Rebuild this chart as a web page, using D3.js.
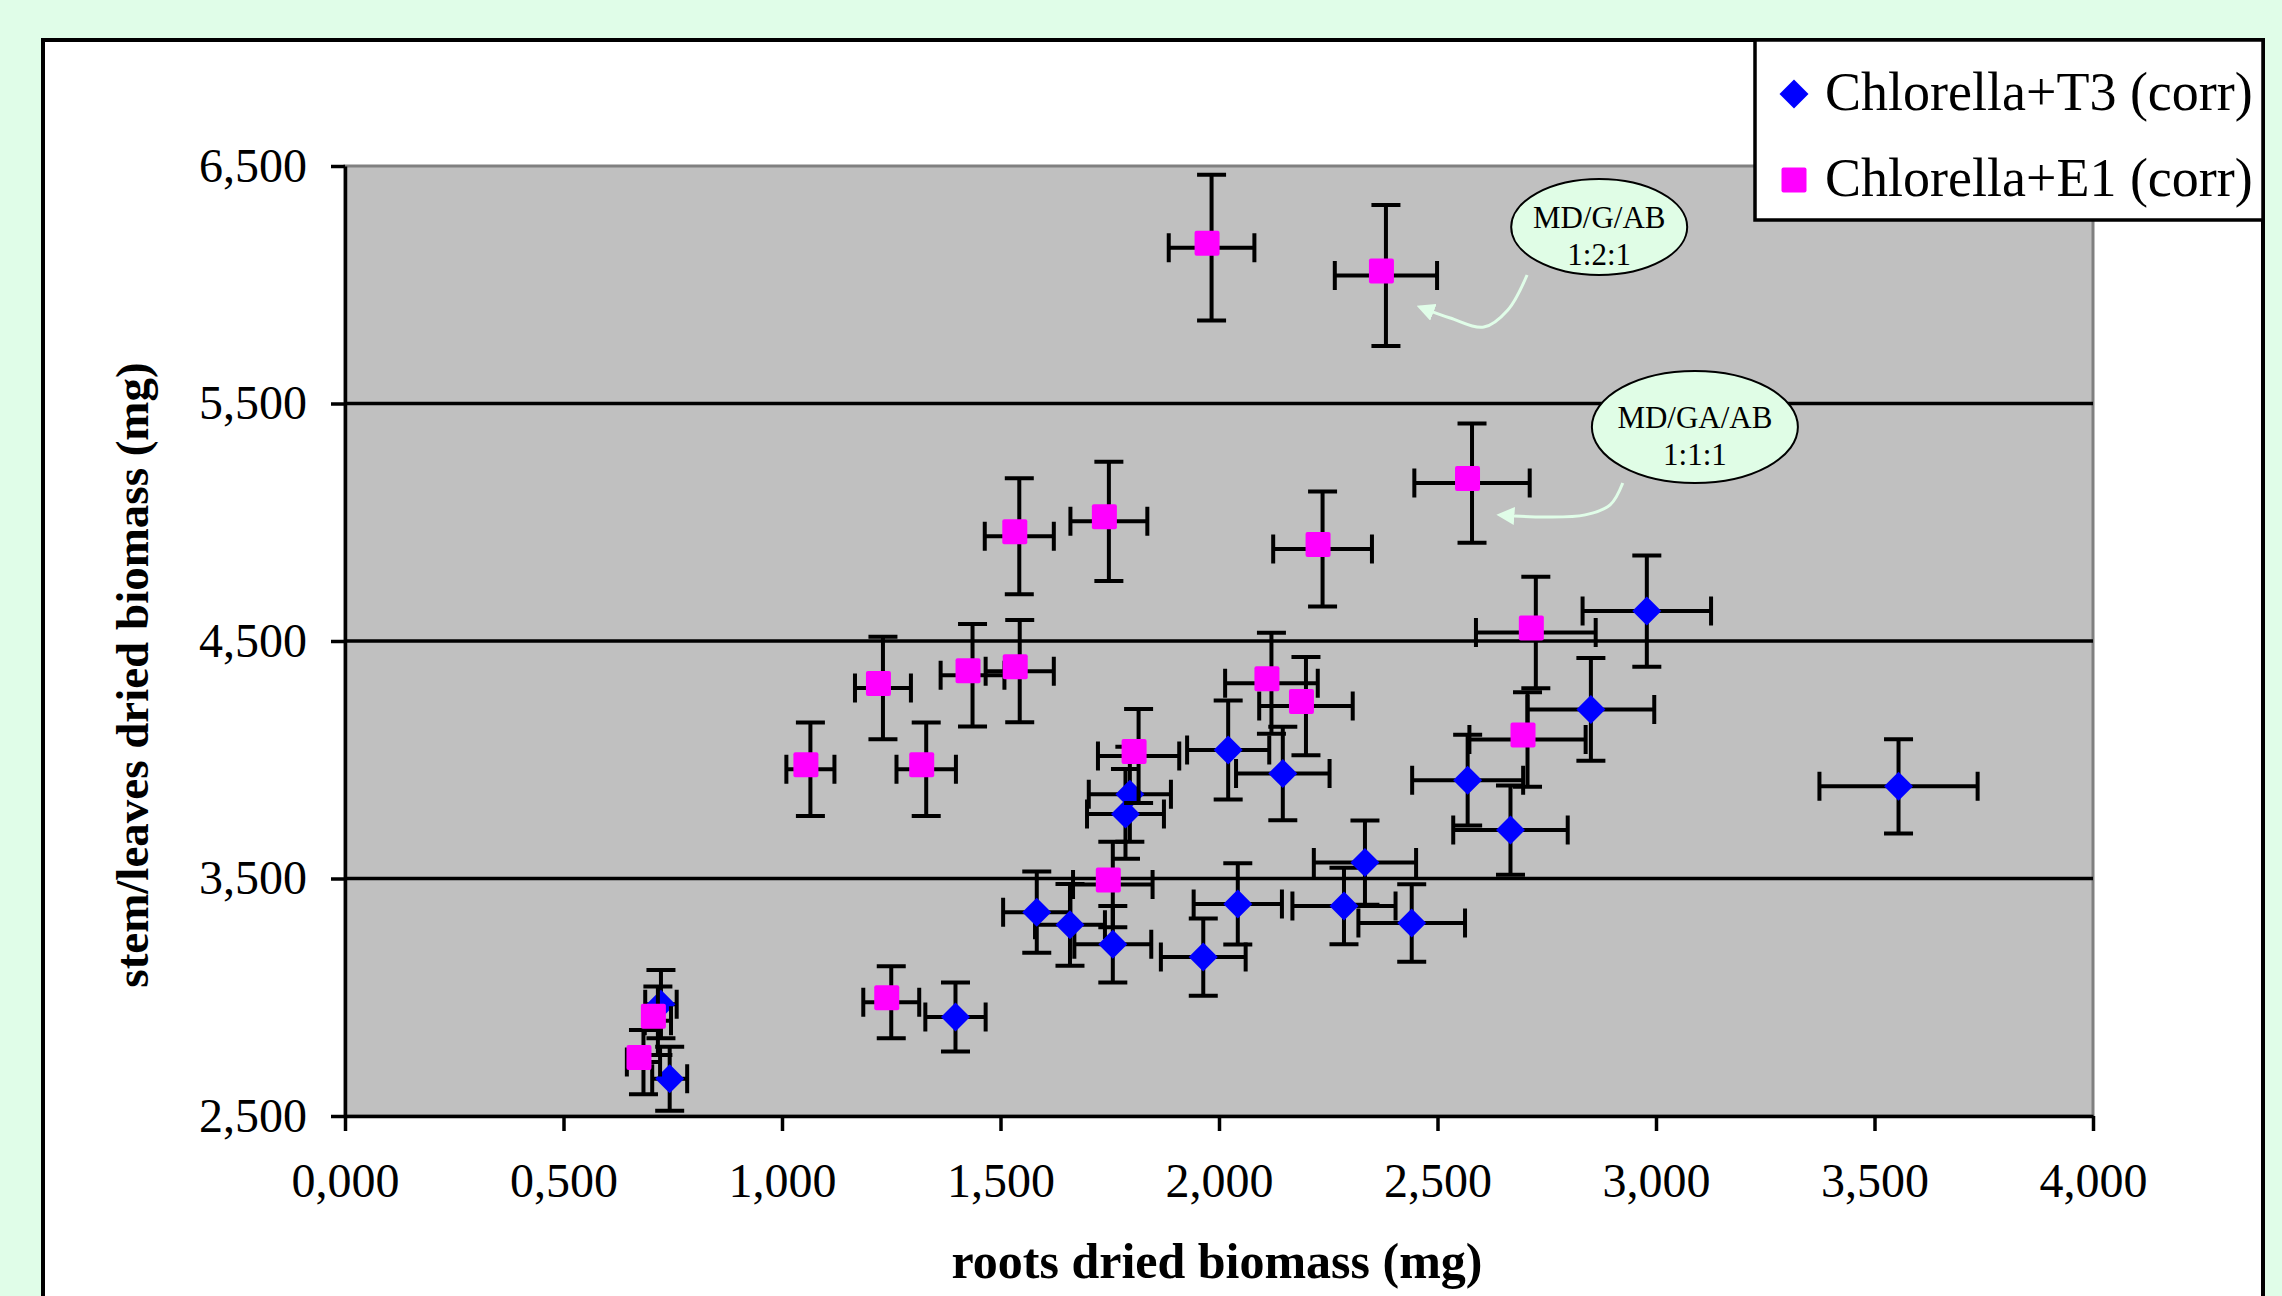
<!DOCTYPE html>
<html>
<head>
<meta charset="utf-8">
<script src="https://cdn.jsdelivr.net/npm/d3@7"></script>
<style>
  html, body { margin: 0; padding: 0; background: #e0fde8; overflow: hidden; }
  text { font-family: "Liberation Serif", "Times New Roman", serif; }
</style>
</head>
<body>
<script>
// Chlorella+T3 (corr): roots (x), stem/leaves (y), error half-widths
const t3X  = [2.979, 2.851, 2.569, 2.667, 3.555, 2.334, 2.286, 2.441, 2.021, 2.146,
              1.796, 1.786, 2.043, 1.964, 1.583, 1.659, 1.757, 1.397, 0.723, 0.743];
const t3Y  = [4.626, 4.212, 3.914, 3.704, 3.888, 3.567, 3.384, 3.313, 4.041, 3.942,
              3.855, 3.772, 3.393, 3.169, 3.358, 3.305, 3.223, 2.917, 2.971, 2.657];
const t3Ex = [0.147, 0.145, 0.127, 0.131, 0.181, 0.117, 0.118, 0.122, 0.094, 0.107,
              0.094, 0.088, 0.101, 0.097, 0.077, 0.080, 0.088, 0.069, 0.036, 0.040];
const t3Ey = [0.234, 0.216, 0.191, 0.188, 0.198, 0.177, 0.161, 0.163, 0.208, 0.197,
              0.200, 0.189, 0.171, 0.163, 0.171, 0.172, 0.161, 0.145, 0.144, 0.135];

// Chlorella+E1 (corr)
const e1X  = [1.983, 2.382, 2.579, 1.543, 1.748, 2.237, 2.725, 1.231, 1.436, 1.544,
              2.120, 2.199, 1.065, 1.330, 1.816, 2.706, 1.757, 1.250, 0.716, 0.683];
const e1Y  = [6.156, 6.039, 5.165, 4.941, 5.004, 4.887, 4.536, 4.302, 4.356, 4.373,
              4.322, 4.226, 3.960, 3.960, 4.016, 4.085, 3.475, 2.979, 2.901, 2.727];
const e1Ex = [0.098, 0.117, 0.132, 0.079, 0.088, 0.113, 0.137, 0.064, 0.073, 0.078,
              0.106, 0.107, 0.055, 0.068, 0.093, 0.133, 0.091, 0.064, 0.030, 0.038];
const e1Ey = [0.307, 0.297, 0.251, 0.244, 0.251, 0.242, 0.235, 0.216, 0.216, 0.215,
              0.213, 0.207, 0.197, 0.197, 0.198, 0.199, 0.180, 0.152, 0.144, 0.135];

const xTicks = [0, 0.5, 1, 1.5, 2, 2.5, 3, 3.5, 4];
const yTicks = [2.5, 3.5, 4.5, 5.5, 6.5];
const gridValues = [3.5, 4.5, 5.5];

const seriesNames = ["Chlorella+T3 (corr)", "Chlorella+E1 (corr)"];

// callouts, anchored in data units
const calloutLabels = [["MD/G/AB", "1:2:1"], ["MD/GA/AB", "1:1:1"]];
const calloutCenters = [[2.870, 6.243], [3.089, 5.401]];
const calloutArrows = [
  [[2.705, 6.041], [2.661, 5.894], [2.606, 5.822], [2.529, 5.860], [2.460, 5.906]],
  [[2.924, 5.165], [2.895, 5.073], [2.838, 5.031], [2.746, 5.022], [2.643, 5.031]]
];

function main() {
  const W = 2282, H = 1296;
  const bg = "#e0fde8";

  const svg = d3.select("body").append("svg")
    .attr("width", W)
    .attr("height", H);

  svg.append("rect").attr("width", W).attr("height", H).attr("fill", bg);

  // chart frame (runs past the bottom edge, as in the picture)
  svg.append("rect")
    .attr("x", 43).attr("y", 40)
    .attr("width", 2220).attr("height", 1320)
    .attr("fill", "white")
    .attr("stroke", "black")
    .attr("stroke-width", 4);

  const x = d3.scaleLinear().domain([0, 4]).range([345, 2093]);
  const y = d3.scaleLinear().domain([2.5, 6.5]).range([1116, 166]);
  const fmt = v => d3.format(".3f")(v).replace(".", ",");

  // plot area
  svg.append("rect")
    .attr("x", x(0)).attr("y", y(6.5))
    .attr("width", x(4) - x(0)).attr("height", y(2.5) - y(6.5))
    .attr("fill", "#c0c0c0")
    .attr("stroke", "#808080")
    .attr("stroke-width", 3);

  svg.append("g").selectAll("line")
    .data(gridValues)
    .join("line")
    .attr("x1", x(0)).attr("x2", x(4))
    .attr("y1", d => y(d)).attr("y2", d => y(d))
    .attr("stroke", "black")
    .attr("stroke-width", 3.5);

  // axes
  const yAxis = svg.append("g")
    .attr("transform", `translate(${x(0)},0)`)
    .call(d3.axisLeft(y).tickValues(yTicks).tickFormat(fmt)
      .tickSize(14).tickSizeOuter(0).tickPadding(24));

  const xAxis = svg.append("g")
    .attr("transform", `translate(0,${y(2.5)})`)
    .call(d3.axisBottom(x).tickValues(xTicks).tickFormat(fmt)
      .tickSize(15).tickSizeOuter(0).tickPadding(32));

  [yAxis, xAxis].forEach(ax => {
    ax.select(".domain").attr("stroke", "black").attr("stroke-width", 3.5);
    ax.selectAll(".tick line").attr("stroke", "black").attr("stroke-width", 3.5);
    ax.selectAll(".tick text")
      .attr("fill", "black")
      .style("font-family", "'Liberation Serif', serif")
      .style("font-size", "48px");
  });

  // axis titles
  svg.append("text")
    .attr("x", 1217).attr("y", 1278)
    .attr("text-anchor", "middle")
    .attr("font-weight", "bold")
    .attr("font-size", 50)
    .text("roots dried biomass (mg)");

  svg.append("text")
    .attr("transform", "translate(148,675) rotate(-90)")
    .attr("text-anchor", "middle")
    .attr("font-weight", "bold")
    .attr("font-size", 47)
    .text("stem/leaves dried biomass (mg)");

  // callouts
  svg.append("defs").append("marker")
    .attr("id", "head")
    .attr("viewBox", "0 0 10 10")
    .attr("refX", 8).attr("refY", 5)
    .attr("markerWidth", 6).attr("markerHeight", 6)
    .attr("markerUnits", "strokeWidth")
    .attr("orient", "auto")
    .append("path")
    .attr("d", "M0,0 L10,5 L0,10 z")
    .attr("fill", "#e0fde8");

  const arrowLine = d3.line()
    .x(d => x(d[0])).y(d => y(d[1]))
    .curve(d3.curveCatmullRom);

  svg.append("g").selectAll("path")
    .data(calloutArrows)
    .join("path")
    .attr("d", arrowLine)
    .attr("fill", "none")
    .attr("stroke", "#e0fde8")
    .attr("stroke-width", 3)
    .attr("marker-end", "url(#head)");

  const callout = svg.append("g").selectAll("g")
    .data(calloutLabels)
    .join("g")
    .attr("transform", (d, i) => `translate(${x(calloutCenters[i][0])},${y(calloutCenters[i][1])})`);

  callout.append("ellipse")
    .attr("rx", (d, i) => i === 0 ? 88 : 103)
    .attr("ry", (d, i) => i === 0 ? 48 : 56)
    .attr("fill", "#e0fde6")
    .attr("stroke", "black")
    .attr("stroke-width", 2);

  callout.append("text")
    .attr("text-anchor", "middle")
    .attr("font-size", 31)
    .selectAll("tspan")
    .data(d => d)
    .join("tspan")
    .attr("x", 0)
    .attr("y", (d, i) => i === 0 ? 1 : 38)
    .text(d => d);

  // series
  const t3 = t3X.map((v, i) => ({ x: v, y: t3Y[i], ex: t3Ex[i], ey: t3Ey[i] }));
  const e1 = e1X.map((v, i) => ({ x: v, y: e1Y[i], ex: e1Ex[i], ey: e1Ey[i] }));

  const cap = 14.5;
  function errorBars(data) {
    const g = svg.append("g")
      .attr("stroke", "black")
      .attr("stroke-width", 4)
      .attr("fill", "none");
    const p = g.selectAll("path")
      .data(data)
      .join("path")
      .attr("d", d => {
        const cx = x(d.x), cy = y(d.y);
        const x0 = x(d.x - d.ex), x1 = x(d.x + d.ex);
        const y0 = y(d.y + d.ey), y1 = y(d.y - d.ey);
        return `M${x0},${cy}H${x1}` +
          `M${x0},${cy - cap}V${cy + cap}M${x1},${cy - cap}V${cy + cap}` +
          `M${cx},${y0}V${y1}` +
          `M${cx - cap},${y0}H${cx + cap}M${cx - cap},${y1}H${cx + cap}`;
      });
    return p;
  }

  const diamond = d3.symbol(d3.symbolSquare, 420);
  const squareSize = 25, squareNudge = -4.5;

  errorBars(t3);
  svg.append("g").selectAll("path")
    .data(t3)
    .join("path")
    .attr("transform", d => `translate(${x(d.x)},${y(d.y)}) rotate(45)`)
    .attr("d", diamond)
    .attr("fill", "#0000ff");

  errorBars(e1);
  svg.append("g").selectAll("rect")
    .data(e1)
    .join("rect")
    .attr("x", d => x(d.x) - squareSize / 2 + squareNudge)
    .attr("y", d => y(d.y) - squareSize / 2 + squareNudge)
    .attr("width", squareSize).attr("height", squareSize)
    .attr("rx", 2)
    .attr("fill", "#ff00ff");

  // legend
  const legend = svg.append("g");
  legend.append("rect")
    .attr("x", 1755).attr("y", 40)
    .attr("width", 508).attr("height", 180)
    .attr("fill", "white")
    .attr("stroke", "black")
    .attr("stroke-width", 3.5);

  const items = legend.selectAll("g.item")
    .data(seriesNames)
    .join("g")
    .attr("class", "item")
    .attr("transform", (d, i) => `translate(1794,${i === 0 ? 94 : 180})`);

  items.filter((d, i) => i === 0).append("path")
    .attr("transform", "rotate(45)")
    .attr("d", diamond)
    .attr("fill", "#0000ff");
  items.filter((d, i) => i === 1).append("rect")
    .attr("x", -12.5).attr("y", -12.5)
    .attr("width", squareSize).attr("height", squareSize)
    .attr("rx", 2)
    .attr("fill", "#ff00ff");

  items.append("text")
    .attr("x", 31).attr("y", 16)
    .attr("font-size", 54)
    .text(d => d);
}
main();
</script>
</body>
</html>
